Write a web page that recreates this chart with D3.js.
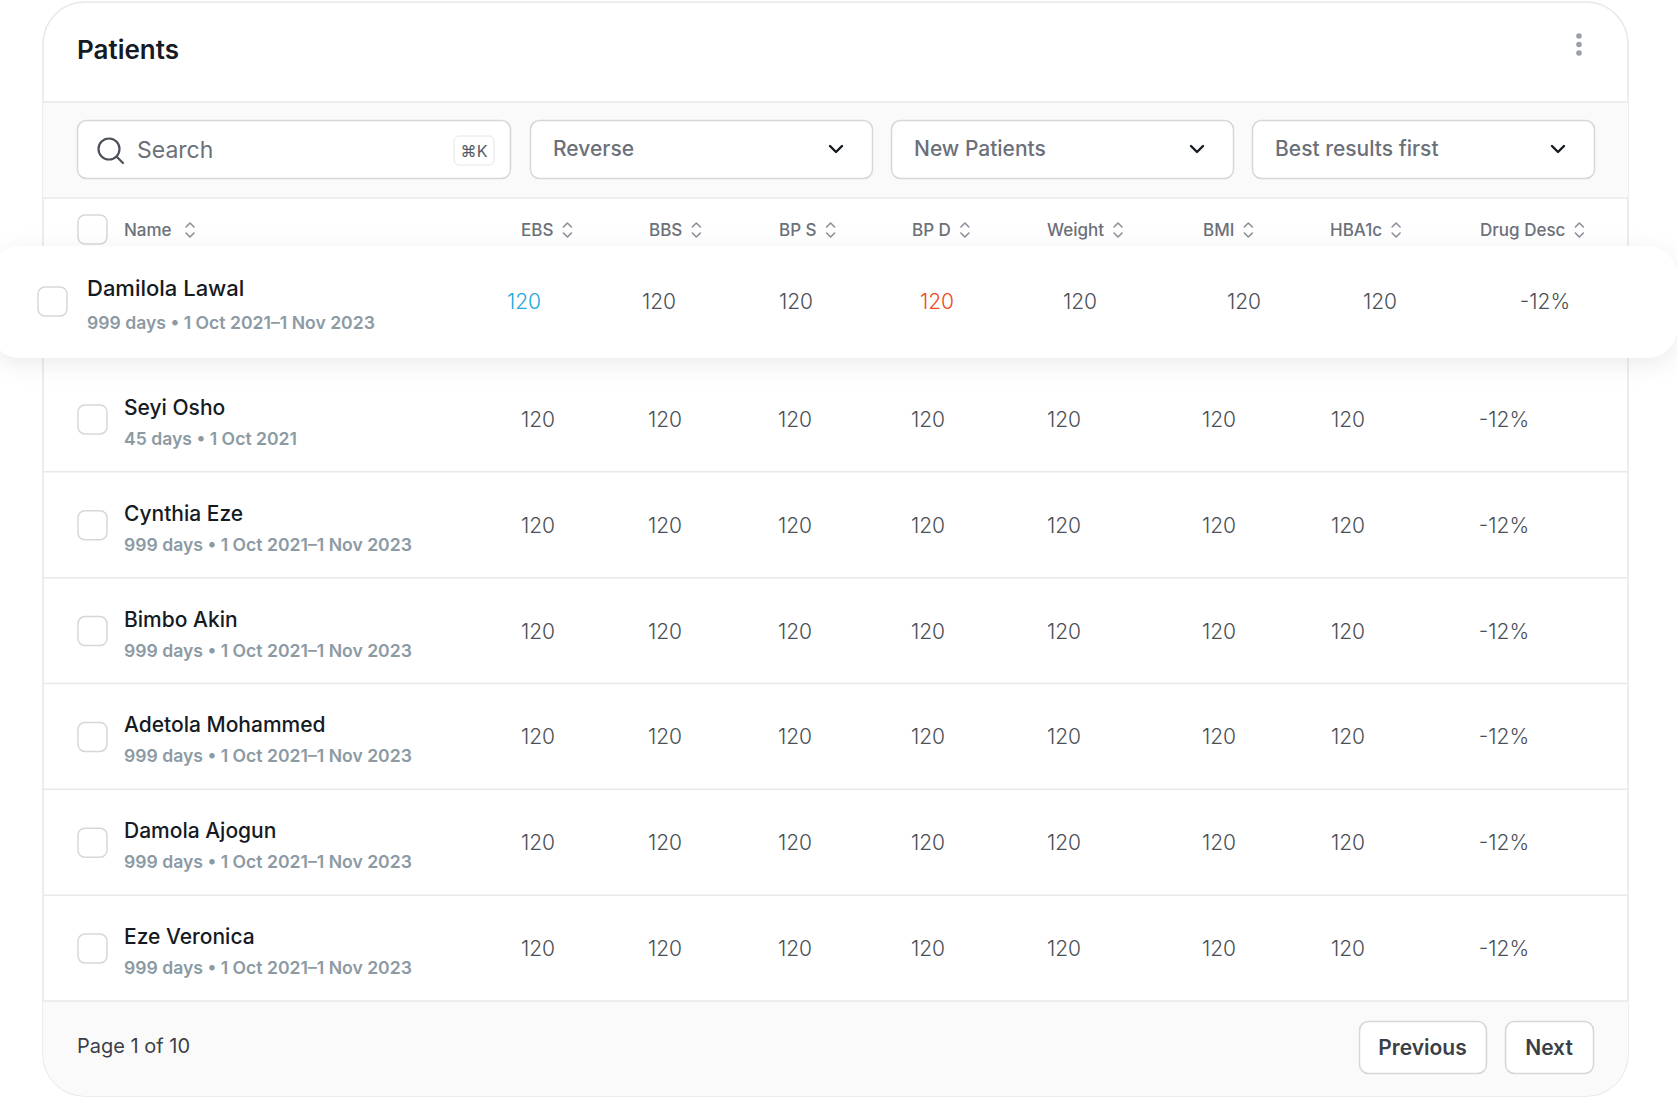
<!DOCTYPE html>
<html><head><meta charset="utf-8">
<script src="https://cdn.jsdelivr.net/npm/d3@7"></script>
<style>body{margin:0;background:#fff;font-family:Inter,sans-serif}</style>
</head><body><div id="wrapper"></div>
<script>
// data
const columns = ["EBS","BBS","BP S","BP D","Weight","BMI","HBA1c","Drug Desc"]
const patients = ["Damilola Lawal","Seyi Osho","Cynthia Eze","Bimbo Akin","Adetola Mohammed","Damola Ajogun","Eze Veronica"]
const periods = ["999 days • 1 Oct 2021–1 Nov 2023","45 days • 1 Oct 2021","999 days • 1 Oct 2021–1 Nov 2023","999 days • 1 Oct 2021–1 Nov 2023","999 days • 1 Oct 2021–1 Nov 2023","999 days • 1 Oct 2021–1 Nov 2023","999 days • 1 Oct 2021–1 Nov 2023"]
const readings = [
  ["120","120","120","120","120","120","120","-12%"],
  ["120","120","120","120","120","120","120","-12%"],
  ["120","120","120","120","120","120","120","-12%"],
  ["120","120","120","120","120","120","120","-12%"],
  ["120","120","120","120","120","120","120","-12%"],
  ["120","120","120","120","120","120","120","-12%"],
  ["120","120","120","120","120","120","120","-12%"]
]
const filters = ["Reverse","New Patients","Best results first"]

const W = 1677, H = 1097
const svg = d3.select("#wrapper").append("svg").attr("width",W).attr("height",H)

// card
const defs = svg.append("defs")
const f = defs.append("filter").attr("id","sh").attr("x","-10%").attr("y","-50%").attr("width","120%").attr("height","200%")
f.append("feDropShadow").attr("dx",0).attr("dy",6).attr("stdDeviation",12).attr("flood-color","#000").attr("flood-opacity",0.08)
defs.append("clipPath").attr("id","cardclip").append("rect").attr("x",43).attr("y",2).attr("width",1585).attr("height",1094).attr("rx",42)

svg.append("rect").attr("x",43).attr("y",2).attr("width",1585).attr("height",1094).attr("rx",42)
  .attr("fill","#fff").attr("stroke","#e6e7ea").attr("stroke-width",1.5)
const card = svg.append("g").attr("clip-path","url(#cardclip)")
card.append("rect").attr("x",43).attr("y",102).attr("width",1585).attr("height",96).attr("fill","#fafafa")
card.append("rect").attr("x",43).attr("y",1001).attr("width",1585).attr("height",100).attr("fill","#fafafa")
card.selectAll("line.h").data([102,198]).join("line").attr("x1",43).attr("x2",1628).attr("y1",d=>d).attr("y2",d=>d).attr("stroke","#e8e9ec").attr("stroke-width",1.5)

svg.append("text").attr("x",77).attr("y",59).text("Patients").attr("font-size",26).attr("font-weight",600).attr("fill","#151a23")
svg.selectAll("circle.dot").data([0,1,2]).join("circle").attr("cx",1579).attr("cy",d=>36+d*8.5).attr("r",2.8).attr("fill","#9aa0a8")

// search + filters
svg.append("rect").attr("x",77.5).attr("y",120.5).attr("width",433).attr("height",58).attr("rx",9).attr("fill","#fff").attr("stroke","#d5d7dc").attr("stroke-width",1.5)
svg.append("circle").attr("cx",109).attr("cy",149).attr("r",10.5).attr("fill","none").attr("stroke","#4b5058").attr("stroke-width",2.2)
svg.append("line").attr("x1",117).attr("y1",157).attr("x2",123).attr("y2",163).attr("stroke","#4b5058").attr("stroke-width",2.2).attr("stroke-linecap","round")
svg.append("text").attr("x",137).attr("y",158).text("Search").attr("font-size",23).attr("fill","#6b7079")
svg.append("rect").attr("x",454).attr("y",136).attr("width",40).attr("height",29).attr("rx",5).attr("fill","#fff").attr("stroke","#e5e6e9")
svg.append("text").attr("x",474).attr("y",157).attr("text-anchor","middle").text("⌘K").attr("font-size",16).attr("fill","#555b63")

const fx = d3.scaleBand().domain(filters).range([530,1594]).paddingInner(19/361).paddingOuter(0)
const fw = fx.bandwidth()
const fg = svg.selectAll("g.filter").data(filters).join("g").attr("transform",d=>`translate(${fx(d)},120)`)
fg.append("rect").attr("x",0.5).attr("y",0.5).attr("width",fw).attr("height",58).attr("rx",9).attr("fill","#fff").attr("stroke","#d5d7dc").attr("stroke-width",1.5)
fg.append("text").attr("x",23).attr("y",36).text(d=>d).attr("font-size",21).attr("font-weight",500).attr("fill","#6b7079")
fg.append("path").attr("d",`M${fw-42},26 l6,6 l6,-6`).attr("fill","none").attr("stroke","#151a23").attr("stroke-width",2.4).attr("stroke-linecap","round").attr("stroke-linejoin","round")

// column scale (centers)
const colCenters = [538,665,795,928,1064,1219,1348,1504]
const xCol = d3.scaleOrdinal().domain(columns).range(colCenters)
const headStarts = [521,649,779,912,1047,1203,1330,1480]
const xHead = d3.scaleOrdinal().domain(columns).range(headStarts)

function checkbox(g,x,y){
  g.append("rect").attr("x",x).attr("y",y).attr("width",29).attr("height",29).attr("rx",7).attr("fill","#fff").attr("stroke","#d5d7dc").attr("stroke-width",1.5)
}
function sortIcon(g,x,y){
  g.append("path").attr("d",`M${x-4},${y-3} l4,-4 l4,4 M${x-4},${y+3} l4,4 l4,-4`).attr("fill","none").attr("stroke","#8a9099").attr("stroke-width",1.6).attr("stroke-linecap","round").attr("stroke-linejoin","round")
}

// header
const head = svg.append("g")
checkbox(head,78,215)
head.append("text").attr("x",124).attr("y",236).text("Name").attr("font-size",17).attr("font-weight",500).attr("fill","#6b7079")
sortIcon(head,190,230)
columns.forEach(c=>{
  const t = head.append("text").attr("x",xHead(c)).attr("y",236).text(c).attr("font-size",17).attr("font-weight",500).attr("fill","#6b7079")
  const w = t.node().getComputedTextLength()
  sortIcon(head,xHead(c)+w+14,230)
})

// rows
const y = d3.scaleBand().domain(patients.slice(1)).range([366,1001])
card.selectAll("line.sep").data(patients.slice(1)).join("line").attr("x1",43).attr("x2",1628)
  .attr("y1",d=>y(d)+y.bandwidth()).attr("y2",d=>y(d)+y.bandwidth()).attr("stroke","#e8e9ec").attr("stroke-width",1.5)

const rows = svg.selectAll("g.row").data(patients.slice(1)).join("g").attr("transform",d=>`translate(0,${y(d)+y.bandwidth()/2})`)
rows.each(function(name){
  const g = d3.select(this), i = patients.indexOf(name)
  checkbox(g,78,-14)
  g.append("text").attr("x",124).attr("y",-4).text(name).attr("font-size",21).attr("font-weight",500).attr("fill","#151a23")
  g.append("text").attr("x",124).attr("y",26).text(periods[i]).attr("font-size",17.6).attr("font-weight",600).attr("fill","#8c9aa4")
  g.selectAll("text.v").data(readings[i]).join("text").attr("x",(d,j)=>xCol(columns[j])).attr("y",8).attr("text-anchor","middle")
    .text(d=>d).attr("font-size",21).attr("font-weight",300).attr("fill","#4b4f56")
})

// highlighted first row
const hlX = [524,659,796,937,1080,1244,1380,1545]
const xHl = d3.scaleOrdinal().domain(columns).range(hlX)
const hl = svg.append("g")
hl.append("rect").attr("x",-10).attr("y",246).attr("width",W+10).attr("height",112).attr("rx",30).attr("fill","#fff").attr("filter","url(#sh)")
checkbox(hl,38,287)
hl.append("text").attr("x",87).attr("y",296).text(patients[0]).attr("font-size",22).attr("font-weight",500).attr("fill","#151a23")
hl.append("text").attr("x",87).attr("y",329).text(periods[0]).attr("font-size",17.6).attr("font-weight",600).attr("fill","#8c9aa4")
const hlColors = {"EBS":"#1aa9e0","BP D":"#f04a21"}
hl.selectAll("text.v").data(readings[0]).join("text").attr("x",(d,j)=>xHl(columns[j])).attr("y",309).attr("text-anchor","middle")
  .text(d=>d).attr("font-size",21).attr("font-weight",300).attr("fill",(d,j)=>hlColors[columns[j]]||"#4b4f56")

// footer
svg.append("text").attr("x",77).attr("y",1053).text("Page 1 of 10").attr("font-size",20).attr("fill","#3a3f47")
const btns = [["Previous",1359,127],["Next",1505,88]]
const bg = svg.selectAll("g.btn").data(btns).join("g").attr("transform",d=>`translate(${d[1]},1021)`)
bg.append("rect").attr("x",0.5).attr("y",0.5).attr("width",d=>d[2]).attr("height",52).attr("rx",9).attr("fill","#fff").attr("stroke","#d5d7dc").attr("stroke-width",1.5)
bg.append("text").attr("x",d=>d[2]/2).attr("y",34).attr("text-anchor","middle").text(d=>d[0]).attr("font-size",21).attr("font-weight",600).attr("fill","#3a3f47")
</script></body></html>
